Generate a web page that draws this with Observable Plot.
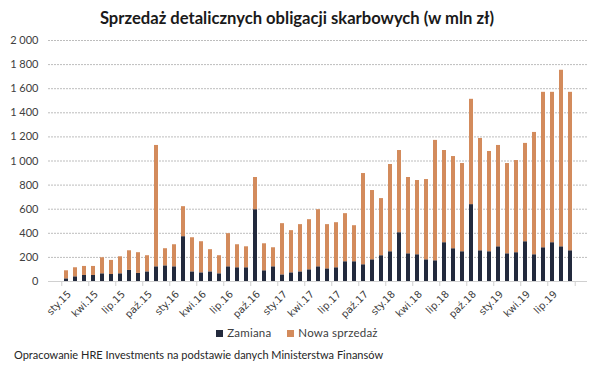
<!DOCTYPE html>
<html><head><meta charset="utf-8">
<script src="https://cdn.jsdelivr.net/npm/d3@7"></script>
<script src="https://cdn.jsdelivr.net/npm/@observablehq/plot@0.6"></script>
<style>
body{margin:0;background:#fff;font-family:Lato,"Open Sans",sans-serif;}
.title{width:594px;height:32px;line-height:36px;text-align:center;font-weight:bold;font-size:16.6px;color:#1a1a1a;}
.legend{position:absolute;top:326px;left:0;width:594px;text-align:center;font-size:11.5px;color:#404040;letter-spacing:0.2px;}
.legend span.sw{display:inline-block;width:7px;height:7px;margin-right:4px;vertical-align:0px;}
.legend span.item{margin:0 8px;}
.caption{position:absolute;top:348px;left:14px;font-size:11px;color:#262626;}
</style></head><body>
<div class="title">Sprzedaż detalicznych obligacji skarbowych (w mln zł)</div>
<div id="chart"></div>
<div class="legend"><span class="item"><span class="sw" style="background:#232a3d"></span>Zamiana</span><span class="item"><span class="sw" style="background:#d38b5c"></span>Nowa sprzedaż</span></div>
<div class="caption">Opracowanie HRE Investments na podstawie danych Ministerstwa Finansów</div>
<script>
const categories = [
 "sty.15","lut.15","mar.15","kwi.15","maj.15","cze.15","lip.15","sie.15","wrz.15","paź.15","lis.15","gru.15",
 "sty.16","lut.16","mar.16","kwi.16","maj.16","cze.16","lip.16","sie.16","wrz.16","paź.16","lis.16","gru.16",
 "sty.17","lut.17","mar.17","kwi.17","maj.17","cze.17","lip.17","sie.17","wrz.17","paź.17","lis.17","gru.17",
 "sty.18","lut.18","mar.18","kwi.18","maj.18","cze.18","lip.18","sie.18","wrz.18","paź.18","lis.18","gru.18",
 "sty.19","lut.19","mar.19","kwi.19","maj.19","cze.19","lip.19","sie.19","wrz.19"];
const zamiana = [22,39,50,50,64,58,64,92,67,80,122,130,
 122,372,80,72,80,64,122,114,114,596,89,122,
 55,72,80,97,122,105,114,164,164,139,180,214,
 247,405,230,222,180,172,322,272,247,638,255,247,
 288,230,239,330,222,280,322,288,255];
const nowaSprzedaz = [67,75,75,75,133,117,141,163,172,134,1007,142,
 183,249,283,258,184,150,275,191,174,267,224,158,
 425,350,392,416,474,367,374,399,299,757,575,474,
 724,682,633,616,666,999,765,765,732,874,932,832,
 841,749,765,816,1015,1290,1248,1465,1315];
const seriesNames = ["Zamiana","Nowa sprzedaż"];
const seriesColors = ["#232a3d","#d38b5c"];
const xLabels = ["sty.15","kwi.15","lip.15","paź.15","sty.16","kwi.16","lip.16","paź.16","sty.17","kwi.17","lip.17","paź.17","sty.18","kwi.18","lip.18","paź.18","sty.19","kwi.19","lip.19"];
const yTicks = [0,200,400,600,800,1000,1200,1400,1600,1800,2000];

const data = categories.flatMap((c,i)=>[
  {cat:c, series:seriesNames[0], value:zamiana[i]},
  {cat:c, series:seriesNames[1], value:nowaSprzedaz[i]}
]);
const W=594, mL=48, mR=7;
const step=(W-mL-mR)/categories.length;
const fmt = d3.formatLocale({thousands:"\u00a0", grouping:[3], decimal:","}).format(",");
const chart = Plot.plot({
  width:W, height:289, marginLeft:mL, marginRight:mR, marginTop:8, marginBottom:40,
  style:{background:"#fff"},
  x:{domain:categories, paddingInner:0.58, paddingOuter:0.29, label:null, axis:null},
  y:{domain:[0,2000], label:null, axis:null},
  color:{domain:seriesNames, range:seriesColors},
  marks:[
    Plot.gridY(yTicks.slice(1),{stroke:"#bdbdbd",strokeOpacity:1,strokeDasharray:"2,1"}),
    Plot.barY(data,{x:"cat",y:"value",fill:"series"}),
    Plot.ruleY([0],{stroke:"#d0d0d0"}),
    Plot.axisY(yTicks,{tickSize:0,tickPadding:10,tickFormat:fmt,fontSize:11,fill:"#404040",fontFamily:"Lato"}),
    Plot.axisX(xLabels,{tickSize:5,tickFormat:()=>"",dx:-step/2,stroke:"#d0d0d0"}),
    Plot.axisX([categories[categories.length-1]],{tickSize:5,tickFormat:()=>"",dx:step/2,stroke:"#d0d0d0"}),
    Plot.text(xLabels,{x:d=>d, y:0, text:d=>d, rotate:-45, textAnchor:"end", lineAnchor:"middle",
      dx:3, dy:11, fontSize:10, fill:"#404040", fontFamily:"DejaVu Sans"})
  ]
});
document.getElementById("chart").appendChild(chart);
</script>
</body></html>
